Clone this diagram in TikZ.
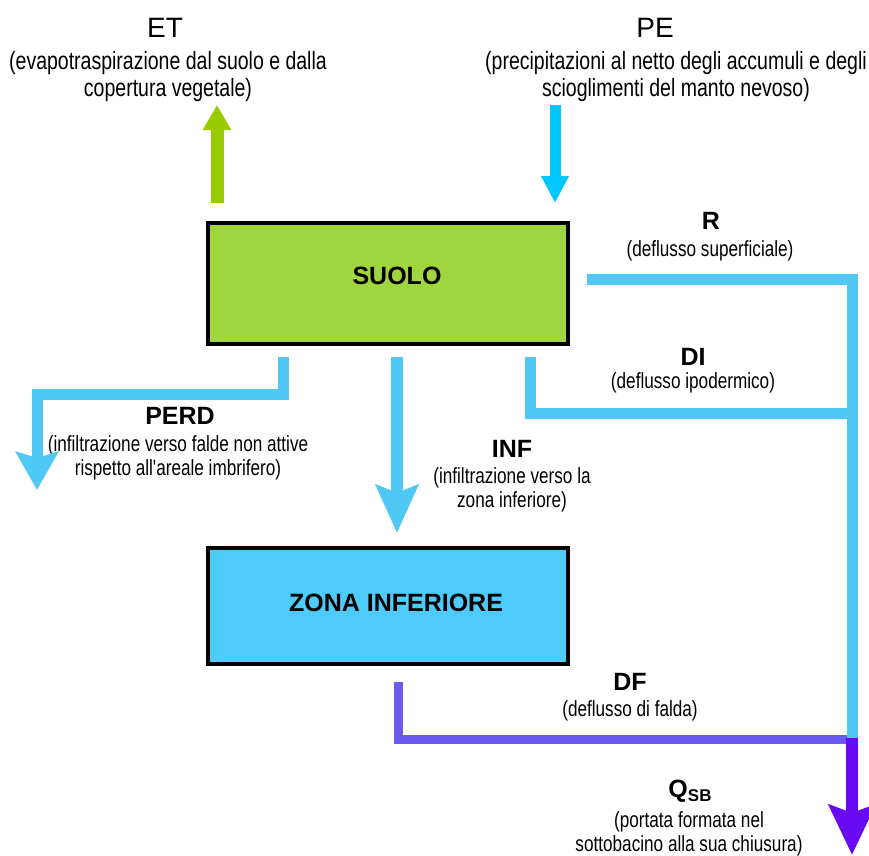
\documentclass[tikz,border=0pt]{standalone}
\usepackage{fontspec}
\setmainfont{Liberation Sans}
\newfontfamily\nf{Liberation Sans}[FakeStretch=0.78]
\usetikzlibrary{arrows.meta,calc}
\definecolor{suologreen}{HTML}{9FD63F}
\definecolor{zonablue}{HTML}{4ECBFA}
\definecolor{flowblue}{HTML}{50C8F5}
\definecolor{peblue}{HTML}{00C8FF}
\definecolor{etgreen}{HTML}{99CC00}
\definecolor{dfpurple}{HTML}{6A5AF0}
\definecolor{qpurple}{HTML}{6A0AF5}
\tikzset{
  boxnode/.style={draw=black, line width=4pt, minimum width=360pt, minimum height=121pt, inner sep=0pt},
  boxtext/.style={font=\fontsize{25}{28}\selectfont\bfseries, inner sep=0pt},
  ttl/.style={font=\fontsize{25}{28}\selectfont\bfseries, inner sep=0pt},
  bigttl/.style={font=\fontsize{28}{30}\selectfont, inner sep=0pt},
  sublbl/.style={font=\nf\fontsize{22}{24}\selectfont, align=center, inner sep=0pt},
  topsub/.style={font=\nf\fontsize{25}{27}\selectfont, align=center, inner sep=0pt},
  flow/.style={draw=flowblue, line width=11pt, line join=miter},
}
\begin{document}
\begin{tikzpicture}[x=1pt,y=-1pt]
\fill[white] (0,0) rectangle (869,855);
\path[use as bounding box] (0,0) rectangle (869,855);

% boxes
\node[boxnode, fill=suologreen] (suolo) at (388,283.5) {};
\node[boxtext] (suolotxt) at (397,276) {SUOLO};
\node[boxnode, fill=zonablue, minimum height=116pt] (zona) at (388,606) {};
\node[boxtext] (zonatxt) at (396,603) {ZONA INFERIORE};

% top labels
\node[bigttl] (et) at (165,28) {ET};
\node[topsub] (etsub) at (168,77) {(evapotraspirazione dal suolo e dalla\\copertura vegetale)};
\node[bigttl] (pe) at (655,28) {PE};
\node[topsub] (pesub) at (676,77) {(precipitazioni al netto degli accumuli e degli\\scioglimenti del manto nevoso)};

% other labels
\node[ttl] (rl) at (711,221) {R};
\node[sublbl] (rsub) at (710,251) {(deflusso superficiale)};
\node[ttl] (dil) at (693,357) {DI};
\node[sublbl] (disub) at (693,383) {(deflusso ipodermico)};
\node[ttl] (perdl) at (180,416) {PERD};
\node[sublbl] (perdsub) at (178,458) {(infiltrazione verso falde non attive\\rispetto all'areale imbrifero)};
\node[ttl] (infl) at (512,449) {INF};
\node[sublbl] (infsub) at (512,490) {(infiltrazione verso la\\zona inferiore)};
\node[ttl] (dfl) at (630,682) {DF};
\node[sublbl] (dfsub) at (630,711) {(deflusso di falda)};
\node[ttl] (ql) at (690,791) {Q\raisebox{-0.16em}{\fontsize{17}{18}\selectfont\bfseries SB}};
\node[sublbl] (qsub) at (689,834) {(portata formata nel\\sottobacino alla sua chiusura)};

% coordinates
\coordinate (etS) at (217,203);
\coordinate (etE) at (217,105);
\coordinate (peS) at (555,105);
\coordinate (peE) at (555,203);
\coordinate (rS) at ([xshift=17pt, yshift=4.5pt]suolo.east);
\coordinate (junc) at (852,739);
\coordinate (perdS) at ([xshift=-105pt, yshift=-11pt]suolo.south);
\coordinate (perdE) at (37,490);
\coordinate (infS) at ([xshift=9pt, yshift=-11pt]suolo.south);
\coordinate (infE) at (397,533);
\coordinate (diS) at ([xshift=142pt, yshift=-11pt]suolo.south);
\coordinate (dfS) at ([xshift=10pt, yshift=-16pt]zona.south);

% ET and PE arrows
\draw[draw=etgreen, line width=13pt, -{Triangle[width=27pt,length=25pt]}] (etS) -- (etE);
\draw[draw=peblue, line width=11pt, -{Triangle[width=26pt,length=27pt]}] (peS) -- (peE);

% DF
\draw[draw=dfpurple, line width=9pt, line join=miter] (dfS) |- ([xshift=-5pt]junc);

% R and DI
\draw[flow] (rS) -| (junc);
\draw[flow] (diS) |- (852,413);

% PERD
\draw[flow, -{Stealth[width=42pt,length=38pt,inset=6pt]}] (perdS) |- (37,394) -- (perdE);

% INF
\draw[flow, line width=12pt, -{Stealth[width=42pt,length=48pt,inset=8pt]}] (infS) -- (infE);

% Q_SB
\draw[draw=qpurple, line width=12pt, -{Stealth[width=46pt,length=50pt,inset=8pt]}] ([yshift=1pt]junc) -- (852,855);
\end{tikzpicture}
\end{document}
